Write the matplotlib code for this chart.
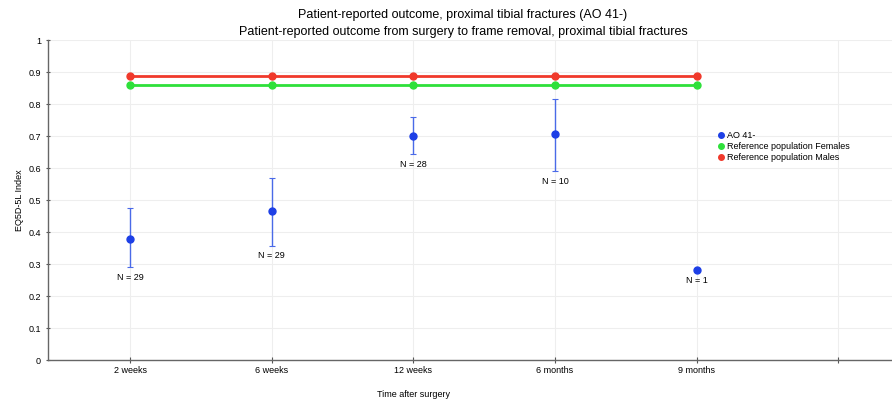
import matplotlib.pyplot as plt
from matplotlib.ticker import FormatStrFormatter
from matplotlib.lines import Line2D
import numpy as np

plt.rcParams['font.family'] = ['Liberation Sans', 'DejaVu Sans']

# data
times = ['2 weeks', '6 weeks', '12 weeks', '6 months', '9 months']
ao_mean = [0.378, 0.465, 0.700, 0.705, 0.280]
ao_low = [0.290, 0.357, 0.643, 0.590, 0.280]
ao_high = [0.475, 0.568, 0.758, 0.815, 0.280]
ao_n = [29, 29, 28, 10, 1]
ref_females = [0.858, 0.858, 0.858, 0.858, 0.858]
ref_males = [0.888, 0.888, 0.888, 0.888, 0.888]

blue = '#1d3fe6'
green = '#2ee03a'
red = '#f0392b'

x = np.arange(len(times))
mean = np.array(ao_mean)
yerr = [mean - np.array(ao_low), np.array(ao_high) - mean]

fig = plt.figure(figsize=(8.92, 4.01), dpi=100)
ax = fig.add_axes([0.0538, 0.1022, 0.9462, 0.798])

ax.plot(x, ref_males, '-o', color=red, lw=2, ms=5, zorder=3)
ax.plot(x, ref_females, '-o', color=green, lw=2, ms=5, zorder=3)
ax.errorbar(x, mean, yerr=yerr, fmt='o', color=blue, ecolor='#4a6ae8', elinewidth=1,
            capsize=2, capthick=0.8, ms=5, zorder=4)

for xi, lo, n in zip(x, ao_low, ao_n):
    ax.annotate(f'N = {n}', (xi, lo), xytext=(0, -4), textcoords='offset points',
                ha='center', va='top', fontsize=6.5)

ax.set_xlim(-0.58, 5.38)
ax.set_ylim(0, 1)
ax.set_xticks(list(x) + [5])
ax.set_xticklabels(times + [''], fontsize=6.5)
ax.set_yticks(np.arange(0, 1.01, 0.1))
ax.yaxis.set_major_formatter(FormatStrFormatter('%g'))
ax.tick_params(axis='y', labelsize=6.5, length=3, direction='inout', color='#555555')
ax.tick_params(axis='x', length=4, direction='inout', color='#555555', pad=2)
ax.grid(True, color='#eeeeee', lw=0.8)
ax.set_axisbelow(True)
for s in ['top', 'right']:
    ax.spines[s].set_visible(False)
for s in ['left', 'bottom']:
    ax.spines[s].set_color('#666666')
    ax.spines[s].set_linewidth(1)

ax.set_ylabel('EQ5D-5L Index', fontsize=6.5)
ax.yaxis.set_label_coords(-0.028, 0.5)
ax.set_xlabel('Time after surgery', fontsize=6.5)
ax.xaxis.set_label_coords((2 + 0.58) / 5.96, -0.095)

fig.text(0.519, 0.962, 'Patient-reported outcome, proximal tibial fractures (AO 41-)', ha='center', va='center', fontsize=9)
fig.text(0.519, 0.92, 'Patient-reported outcome from surgery to frame removal, proximal tibial fractures', ha='center', va='center', fontsize=9)

handles = [Line2D([], [], ls='none', marker='o', color=c, ms=4) for c in (blue, green, red)]
labels = ['AO 41-', 'Reference population Females', 'Reference population Males']
ax.legend(handles, labels, loc='upper left', bbox_to_anchor=(0.787, 0.735), frameon=False,
          fontsize=6.5, handlelength=0.5, handletextpad=0.4, labelspacing=0.2, borderpad=0.2)

fig.savefig('out.png', dpi=100)
